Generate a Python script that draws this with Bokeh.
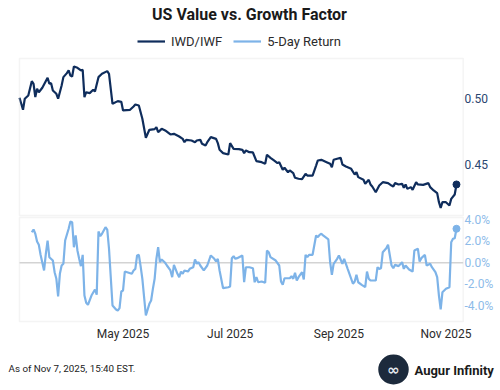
from datetime import datetime

import pandas as pd
from bokeh.core.properties import value
from bokeh.embed import file_html
from bokeh.models import (BoxAnnotation, ColumnDataSource, Label, LabelSet, Legend,
                          LegendItem, Range1d)
from bokeh.plotting import figure
from bokeh.resources import INLINE

# IWD/IWF price ratio (2025, month-day)
ratio_days = [
    "03-03", "03-05", "03-06", "03-08", "03-10", "03-11", "03-12", "03-13",
    "03-14", "03-16", "03-19", "03-20", "03-21", "03-22", "03-24", "03-25",
    "03-27", "03-28", "03-30", "03-31", "04-01", "04-02", "04-03", "04-05",
    "04-07", "04-08", "04-09", "04-10", "04-12", "04-14", "04-15", "04-17",
    "04-19", "04-22", "04-23", "04-25", "04-28", "04-30", "05-01", "05-05",
    "05-07", "05-08", "05-10", "05-12", "05-14", "05-16", "05-19", "05-20",
    "05-21", "05-23", "05-25", "05-28", "05-30", "06-02", "06-04", "06-05",
    "06-06", "06-09", "06-11", "06-12", "06-14", "06-15", "06-17", "06-18",
    "06-20", "06-23", "06-24", "06-25", "06-27", "06-30", "07-01", "07-03",
    "07-06", "07-08", "07-09", "07-10", "07-12", "07-14", "07-16", "07-19",
    "07-21", "07-22", "07-24", "07-26", "07-28", "07-29", "07-31", "08-01",
    "08-03", "08-04", "08-06", "08-07", "08-09", "08-11", "08-13", "08-14",
    "08-17", "08-19", "08-20", "08-22", "08-25", "08-27", "08-28", "08-29",
    "09-02", "09-03", "09-05", "09-08", "09-10", "09-11", "09-12", "09-15",
    "09-16", "09-18", "09-19", "09-20", "09-22", "09-24", "09-26", "09-29",
    "10-01", "10-02", "10-03", "10-05", "10-07", "10-08", "10-09", "10-10",
    "10-12", "10-13", "10-15", "10-16", "10-19", "10-22", "10-23", "10-25",
    "10-27", "10-28", "10-29", "10-30", "11-01", "11-03", "11-04", "11-06",
    "11-07",
]
ratio_values = [
    0.5003, 0.4913, 0.4996, 0.5020, 0.5128, 0.5108, 0.5008, 0.5071,
    0.5045, 0.5078, 0.5153, 0.5108, 0.5113, 0.5058, 0.5033, 0.4996,
    0.5095, 0.5158, 0.5188, 0.5208, 0.5170, 0.5163, 0.5238, 0.5228,
    0.5208, 0.5213, 0.5008, 0.5045, 0.5038, 0.5063, 0.5050, 0.5158,
    0.5183, 0.5203, 0.5183, 0.4958, 0.4978, 0.4973, 0.4908, 0.4913,
    0.4938, 0.4953, 0.4945, 0.4846, 0.4703, 0.4763, 0.4768, 0.4783,
    0.4745, 0.4770, 0.4758, 0.4728, 0.4733, 0.4713, 0.4695, 0.4670,
    0.4688, 0.4683, 0.4670, 0.4683, 0.4688, 0.4658, 0.4645, 0.4670,
    0.4708, 0.4695, 0.4663, 0.4613, 0.4588, 0.4578, 0.4663, 0.4620,
    0.4618, 0.4613, 0.4588, 0.4608, 0.4595, 0.4593, 0.4528, 0.4520,
    0.4508, 0.4576, 0.4553, 0.4533, 0.4513, 0.4520, 0.4463, 0.4478,
    0.4445, 0.4458, 0.4438, 0.4403, 0.4396, 0.4393, 0.4433, 0.4420,
    0.4420, 0.4495, 0.4533, 0.4538, 0.4520, 0.4508, 0.4483, 0.4538,
    0.4553, 0.4503, 0.4488, 0.4470, 0.4428, 0.4445, 0.4408, 0.4388,
    0.4358, 0.4388, 0.4353, 0.4338, 0.4295, 0.4345, 0.4370, 0.4363,
    0.4345, 0.4338, 0.4363, 0.4353, 0.4358, 0.4328, 0.4353, 0.4320,
    0.4333, 0.4313, 0.4370, 0.4353, 0.4350, 0.4363, 0.4333, 0.4308,
    0.4288, 0.4220, 0.4178, 0.4220, 0.4220, 0.4195, 0.4245, 0.4278,
    0.4353,
]

# 5-day return of the ratio, in percent
return_days = [
    "03-10", "03-11", "03-12", "03-13", "03-14", "03-15", "03-17", "03-18",
    "03-19", "03-20", "03-22", "03-23", "03-24", "03-25", "03-26", "03-27",
    "03-28", "03-29", "03-31", "04-01", "04-02", "04-03", "04-04", "04-05",
    "04-06", "04-07", "04-08", "04-09", "04-10", "04-11", "04-13", "04-15",
    "04-16", "04-17", "04-18", "04-19", "04-21", "04-22", "04-23", "04-25",
    "04-27", "04-28", "04-29", "04-30", "05-01", "05-02", "05-06", "05-07",
    "05-08", "05-09", "05-10", "05-11", "05-12", "05-13", "05-14", "05-16",
    "05-17", "05-18", "05-19", "05-20", "05-21", "05-22", "05-23", "05-25",
    "05-26", "05-28", "05-29", "05-30", "06-01", "06-02", "06-03", "06-04",
    "06-05", "06-07", "06-08", "06-10", "06-11", "06-12", "06-13", "06-14",
    "06-16", "06-18", "06-20", "06-22", "06-23", "06-24", "06-25", "06-27",
    "06-30", "07-01", "07-02", "07-03", "07-04", "07-05", "07-08", "07-09",
    "07-10", "07-12", "07-14", "07-15", "07-16", "07-17", "07-19", "07-21",
    "07-22", "07-23", "07-24", "07-27", "07-29", "07-30", "07-31", "08-01",
    "08-04", "08-05", "08-06", "08-07", "08-08", "08-09", "08-11", "08-12",
    "08-13", "08-14", "08-15", "08-17", "08-19", "08-20", "08-21", "08-22",
    "08-23", "08-26", "08-27", "08-28", "08-29", "08-31", "09-01", "09-03",
    "09-04", "09-06", "09-09", "09-10", "09-11", "09-12", "09-14", "09-16",
    "09-17", "09-18", "09-19", "09-22", "09-23", "09-24", "09-25", "09-26",
    "09-28", "09-29", "10-01", "10-02", "10-03", "10-05", "10-07", "10-08",
    "10-09", "10-11", "10-13", "10-14", "10-16", "10-17", "10-18", "10-20",
    "10-21", "10-23", "10-24", "10-26", "10-27", "10-28", "10-29", "10-30",
    "11-01", "11-03", "11-04", "11-05", "11-06", "11-07",
]
return_values = [
    2.83, 3.08, 2.69, 1.97, 1.67, 0.74, -0.71, 0.83,
    2.06, 0.52, 0.21, -0.87, -1.48, -3.12, -1.02, -0.25,
    -0.09, 2.06, 3.15, 3.82, 3.76, 1.44, 2.53, 1.14,
    0.37, -0.31, 0.74, -3.03, -3.70, -3.89, -3.03, -2.47,
    -2.96, 2.90, 2.46, 2.69, 3.30, 3.08, 1.30, -3.95,
    -4.32, -4.42, -4.20, -2.66, -2.56, -0.81, -1.02, -0.71,
    -0.56, 0.68, 0.74, -0.31, -1.48, -3.19, -4.88, -3.80,
    -3.49, -2.41, -1.48, 0.37, 1.44, 0.06, 0.31, 0.00,
    -0.25, -0.71, -1.33, -0.19, -1.02, -1.33, -0.81, -1.02,
    -0.71, -0.81, -0.56, -0.41, 0.31, -0.09, 0.06, -0.25,
    -0.71, -0.25, 0.68, 0.37, 0.12, 0.37, -0.71, -2.35,
    -2.26, -2.19, 0.43, 0.61, 0.37, 0.43, 0.68, -1.80,
    -0.41, -0.41, -0.50, -1.80, -1.33, -1.80, -1.73, -1.85,
    1.14, 0.98, 0.52, 0.21, -0.25, -1.73, -2.04, -1.43,
    -1.43, -1.24, -1.48, -0.93, -1.64, -1.33, -0.87, -1.55,
    0.74, 0.52, 0.74, 0.74, 2.53, 2.37, 2.59, 2.69,
    2.53, 2.16, 0.06, -1.11, -0.09, 0.37, 0.68, -0.09,
    0.37, -0.56, -1.94, -1.73, -1.11, -1.80, -2.04, -2.26,
    -0.81, -1.48, -1.64, -1.64, -0.41, -0.56, -0.50, 0.98,
    1.35, 1.67, -0.25, -0.50, -0.19, -0.31, 0.06, -0.56,
    -0.25, -0.62, -0.81, 1.14, 1.30, 0.12, 0.43, 0.74,
    -0.25, -0.09, -0.41, -0.87, -1.33, -3.03, -4.32, -2.72,
    -2.41, -2.26, 1.91, 2.22, 2.28, 3.15,
]

ratio_ticks = [0.45, 0.50]
ratio_tick_labels = ["0.45", "0.50"]
return_ticks = [-4, -2, 0, 2, 4]
return_tick_labels = ["-4.0%", "-2.0%", "0.0%", "2.0%", "4.0%"]
month_ticks = ["2025-05-01", "2025-07-01", "2025-09-01", "2025-11-01"]
month_tick_labels = ["May 2025", "Jul 2025", "Sep 2025", "Nov 2025"]

NAVY = "#0f2d5c"
LIGHT = "#7db3e8"
FONT = "Roboto"


def ms(ts):
    return pd.Timestamp(ts).timestamp() * 1000.0


ratio_x = pd.to_datetime(["2025-" + d for d in ratio_days])
return_x = pd.to_datetime(["2025-" + d for d in return_days])

# The plotting frame fills the whole canvas; panels, tick labels, title,
# legend and footer are all laid out inside it.
p = figure(
    frame_width=500, frame_height=390,
    min_border_left=0, min_border_right=0, min_border_top=0, min_border_bottom=0,
    x_axis_type="datetime", x_axis_location=None, y_axis_location=None,
    x_range=Range1d(datetime(2025, 2, 20, 4), datetime(2025, 12, 2, 2)),
    y_range=Range1d(0.28077, 0.57328),
    output_backend="svg", toolbar_location=None,
)
p.extra_y_ranges = {"ret": Range1d(-11.824, 24.287)}
p.outline_line_color = None
p.grid.visible = False
p.background_fill_color = "white"
p.border_fill_color = "white"

# panel extents (time axis: data start to a few days after the last print)
panel_left = ms("2025-03-03")
panel_right = ms("2025-11-10 20:00")
BORDER = "#d9d9d9"
p.add_layout(BoxAnnotation(left=panel_left, right=panel_right, top=0.52978, bottom=0.412,
                           fill_alpha=0, line_color=BORDER, line_width=1.5))
p.add_layout(BoxAnnotation(left=panel_left, right=panel_right, top=4.19, bottom=-5.435,
                           y_range_name="ret", fill_alpha=0, line_color=BORDER,
                           line_width=1.5))
zero_src = ColumnDataSource(dict(x0=[panel_left], x1=[panel_right], y=[0]))
p.segment(x0="x0", x1="x1", y0="y", y1="y", source=zero_src, y_range_name="ret",
          line_color="#d3d3d3", line_width=1.5)

r_ratio = p.line(ratio_x, ratio_values, line_color=NAVY, line_width=2.2)
r_ret = p.line(return_x, return_values, line_color=LIGHT, line_width=2.2, y_range_name="ret")
p.scatter([ratio_x[-1]], [ratio_values[-1]], size=7, color=NAVY)
p.scatter([return_x[-1]], [return_values[-1]], size=7, color=LIGHT, y_range_name="ret")

# time axis labels
month_src = ColumnDataSource(dict(x=pd.to_datetime(month_ticks), text=month_tick_labels))
p.add_layout(LabelSet(x="x", y=57, y_units="screen", text="text", source=month_src,
                      text_align="center", text_baseline="middle", text_font=value(FONT),
                      text_font_size="12px", text_color="#2b2b2b"))

# right-hand tick labels for both panels
ratio_src = ColumnDataSource(dict(y=ratio_ticks, text=ratio_tick_labels))
p.add_layout(LabelSet(x=464, y="y", x_units="screen", text="text", source=ratio_src,
                      text_baseline="middle", text_font=value(FONT),
                      text_font_size="12px", text_color="#2a4670"))
ret_src = ColumnDataSource(dict(y=return_ticks, text=return_tick_labels))
p.add_layout(LabelSet(x=464, y="y", x_units="screen", text="text", source=ret_src,
                      y_range_name="ret", text_baseline="middle", text_font=value(FONT),
                      text_font_size="12px", text_color="#8dbbe9"))

legend = Legend(
    items=[LegendItem(label="IWD/IWF", renderers=[r_ratio]),
           LegendItem(label="5-Day Return", renderers=[r_ret])],
    location=(137, 339), orientation="horizontal",
    glyph_width=28, glyph_height=20, label_height=20, label_standoff=6, spacing=11,
    padding=0, margin=0, border_line_color=None, background_fill_alpha=0,
    label_text_font=FONT, label_text_font_size="13px", label_text_color="#2b2b2b",
)
p.add_layout(legend)

p.add_layout(Label(x=249, y=376, x_units="screen", y_units="screen",
                   text="US Value vs. Growth Factor", text_align="center",
                   text_baseline="middle", text_font=FONT, text_font_size="16px",
                   text_font_style="bold", text_color="#1a1a1a"))

p.add_layout(Label(x=8, y=22.3, x_units="screen", y_units="screen",
                   text="As of Nov 7, 2025, 15:40 EST.", text_baseline="middle",
                   text_font=FONT, text_font_size="9.8px", text_color="#222222"))

# brand mark: round navy badge with an infinity sign
p.add_layout(Label(x=393, y=21, x_units="screen", y_units="screen",
                   text="\u2009\u221e\u2009", text_align="center", text_baseline="middle",
                   text_font="DejaVu Sans", text_font_size="15px", text_font_style="bold",
                   text_color="#e3e8ee", background_fill_color="#1c2a3c",
                   padding=6, border_radius=15))
p.add_layout(Label(x=414, y=20, x_units="screen", y_units="screen", text="Augur Infinity",
                   text_baseline="middle", text_font=FONT, text_font_size="13px",
                   text_font_style="bold", text_color="#1a1a1a"))

open("out.html", "w").write(file_html(p, INLINE))
